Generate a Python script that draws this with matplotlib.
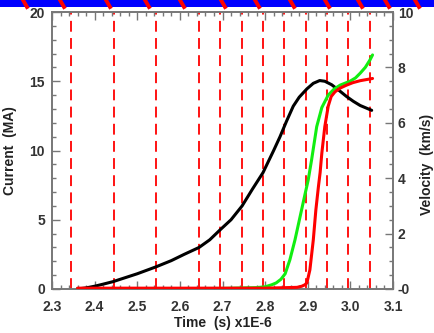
import matplotlib
matplotlib.use("Agg")
import matplotlib.pyplot as plt
from matplotlib.ticker import MultipleLocator
from matplotlib.lines import Line2D
from matplotlib.patches import Rectangle

# ---- data ----
marker_times = [2.345, 2.445, 2.545, 2.645, 2.695, 2.745, 2.795, 2.845, 2.895, 2.945, 2.995, 3.045]

cur_t = [2.359, 2.38, 2.40, 2.42, 2.443, 2.47, 2.50, 2.544, 2.58, 2.61, 2.645, 2.67, 2.694, 2.72,
         2.746, 2.77, 2.795, 2.82, 2.835, 2.85, 2.866, 2.88, 2.898, 2.913, 2.928, 2.94, 2.956,
         2.975, 2.991, 3.007, 3.023, 3.05]
cur_I = [0.0, 0.08, 0.2, 0.35, 0.53, 0.8, 1.1, 1.6, 2.05, 2.5, 3.0, 3.55, 4.26, 5.0,
         6.0, 7.2, 8.4, 10.0, 11.0, 12.1, 13.2, 13.85, 14.45, 14.85, 15.05, 15.0, 14.75,
         14.3, 13.9, 13.55, 13.25, 12.9]

grn_t = [2.36, 2.70, 2.78, 2.80, 2.815, 2.826, 2.837, 2.847, 2.858, 2.87, 2.882, 2.894, 2.901,
         2.909, 2.921, 2.933, 2.948, 2.962, 2.976, 2.999, 3.012, 3.023, 3.035, 3.046, 3.052]
grn_v = [0.0, 0.02, 0.05, 0.08, 0.15, 0.22, 0.35, 0.55, 1.05, 1.77, 2.61, 3.45, 3.93,
         4.66, 5.86, 6.55, 7.0, 7.22, 7.36, 7.5, 7.62, 7.79, 8.0, 8.27, 8.45]

red_t = [2.36, 2.80, 2.875, 2.886, 2.893, 2.898, 2.905, 2.913, 2.919, 2.925, 2.929, 2.933, 2.94,
         2.948, 2.955, 2.964, 2.977, 2.991, 3.006, 3.023, 3.052]
red_v = [0.03, 0.03, 0.06, 0.1, 0.15, 0.22, 0.69, 1.77, 2.85, 3.69, 4.2, 4.9, 5.86,
         6.6, 6.95, 7.12, 7.26, 7.36, 7.45, 7.52, 7.6]

xticks = [2.3, 2.4, 2.5, 2.6, 2.7, 2.8, 2.9, 3.0, 3.1]
xticklabels = ["2.3", "2.4", "2.5", "2.6", "2.7", "2.8", "2.9", "3.0", "3.1"]
yticks_left = [0, 5, 10, 15, 20]
yticks_right = [0, 2, 4, 6, 8, 10]
yticklabels_right = ["-0", "2", "4", "6", "8", "10"]

# ---- figure ----
plt.rcParams['font.family'] = ['Liberation Sans', 'DejaVu Sans']
plt.rcParams['font.weight'] = 'bold'
fig = plt.figure(figsize=(4.35, 3.33), dpi=100)
W, H = 435, 333

# top decorative band
fig.add_artist(Rectangle((0, 1 - 7 / H), 1, 7 / H, transform=fig.transFigure,
                         facecolor='#0000ff', edgecolor='none', zorder=0))
for xs in [25, 62, 108, 147, 182, 223, 257, 292, 327, 360, 387, 417]:
    fig.add_artist(Line2D([(xs - 2) / W, (xs + 2) / W], [1, 1 - 7 / H],
                          transform=fig.transFigure, color='#ff0000', lw=2.8, zorder=1))

ax = fig.add_axes([52 / W, 1 - 289 / H, (393 - 52) / W, (289 - 12) / H])
ax2 = ax.twinx()

frame_col = '#777777'
for a in (ax, ax2):
    for s in a.spines.values():
        s.set_color(frame_col)
        s.set_linewidth(1.2)

ax.set_xlim(2.3, 3.1)
ax.set_ylim(0, 20)
ax2.set_ylim(0, 10)

for t in marker_times:
    ax.axvline(t, color='#ff0000', lw=1.3, ls=(0, (6, 3.5)), zorder=1)

ax.plot(cur_t, cur_I, color='black', lw=2.2, zorder=3, solid_capstyle='round', solid_joinstyle='round')
ax2.plot(grn_t, grn_v, color='#11ee11', lw=2.2, zorder=3, solid_capstyle='round', solid_joinstyle='round')
ax2.plot(red_t, red_v, color='#ff0000', lw=2.2, zorder=4, solid_capstyle='round', solid_joinstyle='round')

ax.set_xticks(xticks)
ax.set_xticklabels(xticklabels)
ax.xaxis.set_minor_locator(MultipleLocator(0.02))
ax.set_yticks(yticks_left)
ax.yaxis.set_minor_locator(MultipleLocator(1))
ax2.set_yticks(yticks_right)
ax2.set_yticklabels(yticklabels_right)
ax2.yaxis.set_minor_locator(MultipleLocator(0.5))

fs = 10
ax.tick_params(axis='x', which='both', direction='in', top=True, bottom=True,
               color=frame_col, labelsize=fs, pad=8)
ax.tick_params(axis='x', which='major', length=6, width=1)
ax.tick_params(axis='x', which='minor', length=3, width=1)
ax.tick_params(axis='y', which='both', direction='in', color=frame_col, labelsize=fs, pad=5)
ax.tick_params(axis='y', which='major', length=6, width=1)
ax.tick_params(axis='y', which='minor', length=3, width=1)
ax2.tick_params(axis='y', which='both', direction='in', color=frame_col, labelsize=fs, pad=3.5)
ax2.tick_params(axis='y', which='major', length=6, width=1)
ax2.tick_params(axis='y', which='minor', length=3, width=1)
for lab in ax.get_xticklabels() + ax.get_yticklabels() + ax2.get_yticklabels():
    lab.set_color('#333333')
    lab.set_fontweight('bold')

ax.set_xlabel("Time  (s) x1E-6", fontsize=fs, fontweight='bold', color='#222222', va='center')
ax.xaxis.set_label_coords(0.5, (289 - 323) / 277)
ax.set_ylabel("Current  (MA)", fontsize=fs, fontweight='bold', color='#222222', va='center')
ax.yaxis.set_label_coords((10 - 52) / 341, 0.5)
ax2.set_ylabel("Velocity  (km/s)", fontsize=fs, fontweight='bold', color='#222222', va='center',
               rotation=90)
ax2.yaxis.set_label_coords((427 - 52) / 341, (289 - 164) / 277)

fig.savefig("out.png", dpi=100)
